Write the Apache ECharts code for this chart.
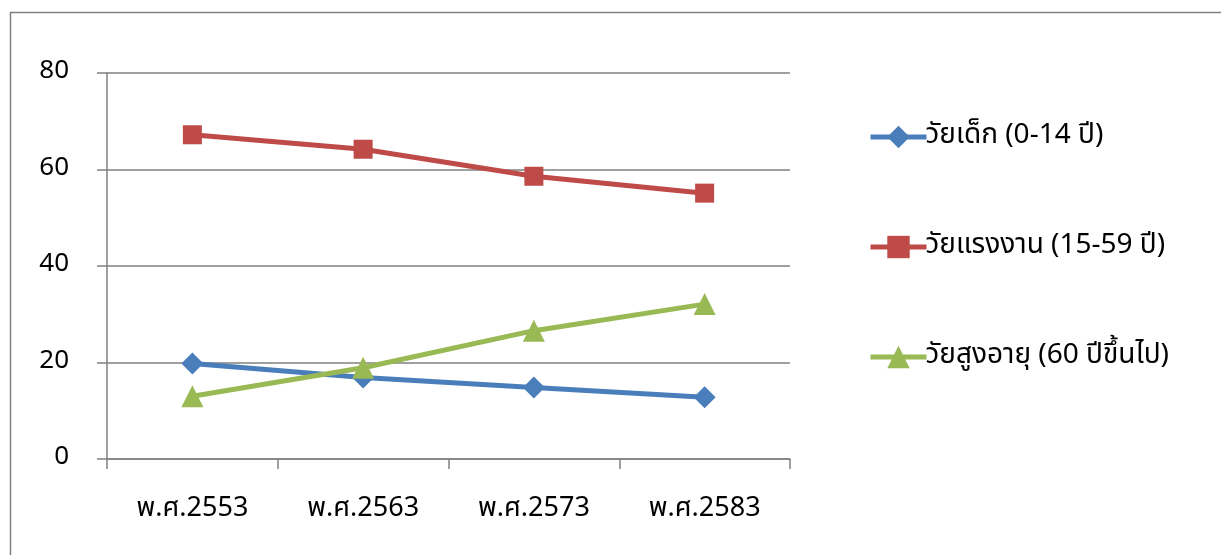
<!DOCTYPE html>
<html><head><meta charset="utf-8">
<script src="https://cdn.jsdelivr.net/npm/echarts@6/dist/echarts.min.js"></script>
<style>html,body{margin:0;padding:0;background:#fff}#c{width:1221px;height:555px}</style>
</head><body><div id="c"></div>
<script>
var categories = ['พ.ศ.2553', 'พ.ศ.2563', 'พ.ศ.2573', 'พ.ศ.2583'];
var seriesNames = ['วัยเด็ก (0-14 ปี)', 'วัยแรงงาน (15-59 ปี)', 'วัยสูงอายุ (60 ปีขึ้นไป)'];
var children = [19.8, 16.9, 14.8, 12.8];
var working = [67.2, 64.2, 58.6, 55.1];
var elderly = [13.0, 18.9, 26.6, 32.1];
var yTicks = [0, 20, 40, 60, 80];

var FONT = '"Noto Sans Thai", "Tahoma", "Noto Sans", sans-serif';
var chart = echarts.init(document.getElementById('c'));
var colors = ['#4A7EBB', '#BE4B48', '#98B954'];
function mk(i, data, sym, size) {
  return {
    name: seriesNames[i], type: 'line', data: data, symbol: sym, symbolSize: size,
    lineStyle: {width: 5, color: colors[i]}, itemStyle: {color: colors[i]},
    emphasis: {disabled: true}, animation: false
  };
}
chart.setOption({
  animation: false,
  textStyle: {fontFamily: FONT},
  graphic: [{type: 'rect', shape: {x: 10.5, y: 12.5, width: 1300, height: 600},
    style: {fill: 'none', stroke: '#808080', lineWidth: 1.5}, silent: true}],
  grid: {left: 107, right: 431, top: 73, bottom: 96, containLabel: false},
  legend: {
    orient: 'vertical', left: 863, top: 118, itemGap: 82, itemWidth: 56, itemHeight: 28,
    lineStyle: {width: 5},
    textStyle: {fontSize: 28, color: '#000', fontFamily: FONT, padding: [0, 0, 0, -6]},
    data: seriesNames
  },
  xAxis: {
    type: 'category', data: categories, boundaryGap: true,
    axisLine: {lineStyle: {color: '#808080', width: 1.5}},
    axisTick: {show: true, length: 10, lineStyle: {color: '#808080', width: 1.5}},
    axisLabel: {fontSize: 27, color: '#000', margin: 38, fontFamily: FONT}
  },
  yAxis: {
    type: 'value', min: yTicks[0], max: yTicks[yTicks.length - 1], interval: 20,
    axisLine: {show: true, lineStyle: {color: '#808080', width: 1.5}},
    axisTick: {show: true, length: 10, lineStyle: {color: '#808080', width: 1.5}},
    splitLine: {lineStyle: {color: '#808080', width: 1.5}},
    axisLabel: {fontSize: 26, color: '#000', margin: 38, fontFamily: FONT}
  },
  series: [
    mk(0, children, 'diamond', 22),
    mk(1, working, 'rect', 19),
    mk(2, elderly, 'triangle', 22)
  ]
});
</script></body></html>
